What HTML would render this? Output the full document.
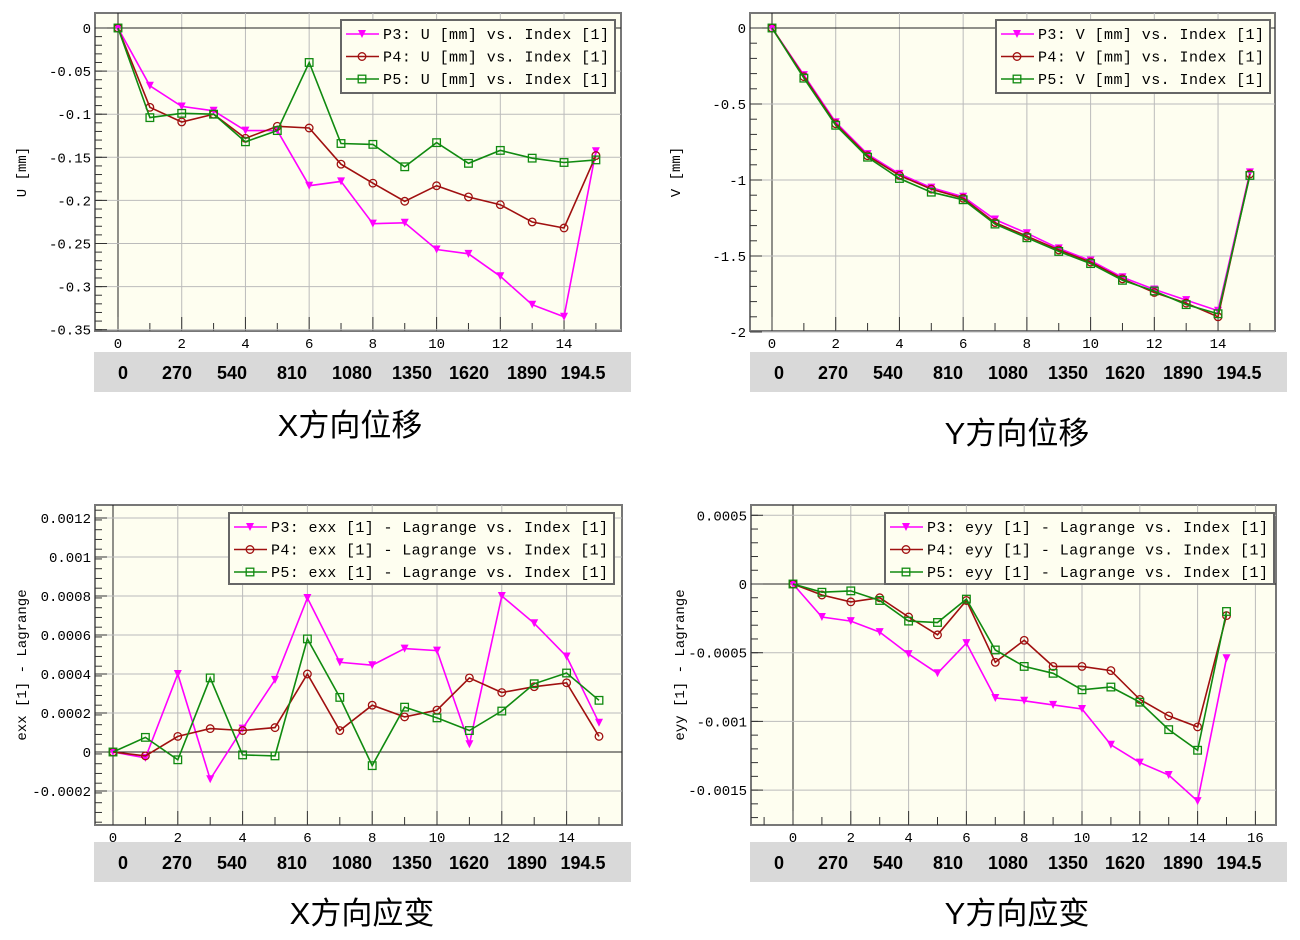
<!DOCTYPE html>
<html><head><meta charset="utf-8">
<style>
body{margin:0;background:#fff;width:1300px;height:940px;overflow:hidden}
svg{display:block}
</style></head><body>
<svg id="s" width="1300" height="940" xmlns="http://www.w3.org/2000/svg" font-family="Liberation Mono, monospace"></svg>
<script>
var S=document.getElementById('s'),h='';
var M="'Liberation Mono',monospace", CJK="'Liberation Sans','Noto Sans CJK SC',sans-serif";
var C=[{c:'#ff00ff',m:'tri'},{c:'#a01010',m:'circ'},{c:'#108a10',m:'sq'}];
function mk(m,x,y,c){
 if(m=='tri')return '<path d="M'+(x-4)+' '+(y-4)+'L'+(x+4)+' '+(y-4)+'L'+x+' '+(y+4)+'Z" fill="'+c+'"/>';
 if(m=='circ')return '<circle cx="'+x+'" cy="'+y+'" r="3.8" fill="none" stroke="'+c+'" stroke-width="1.3"/>';
 return '<rect x="'+(x-3.8)+'" y="'+(y-3.8)+'" width="7.6" height="7.6" fill="none" stroke="'+c+'" stroke-width="1.3"/>';
}
function chart(o){
 var fx=o.fx,fy=o.fy,fw=o.fw,fh=o.fh;
 h+='<rect x="'+fx+'" y="'+fy+'" width="'+fw+'" height="'+fh+'" fill="#fefef0" stroke="#777" stroke-width="2"/>';
 function X(i){return o.x0+i*o.dx}
 function Y(v){return o.y0+v*o.dy}
 for(var i=0;i<=o.xmax;i+=2){var x=X(i);if(x<fx||x>fx+fw)continue;
  h+='<line x1="'+x+'" y1="'+fy+'" x2="'+x+'" y2="'+(fy+fh)+'" stroke="'+(i==0?'#222':'#bbb')+'" stroke-width="1"/>';
  h+='<text x="'+x+'" y="'+(fy+fh+17)+'" font-size="14" text-anchor="middle" font-family="'+M+'">'+i+'</text>';}
 for(var i=o.xmin;i<=o.xmax;i++){var x=X(i);if(x<fx||x>fx+fw)continue;
  h+='<line x1="'+x+'" y1="'+(fy+fh-(i%2?8:14))+'" x2="'+x+'" y2="'+(fy+fh)+'" stroke="#333"/>';}
 o.yt.forEach(function(t){var y=Y(t[0]);
  h+='<line x1="'+fx+'" y1="'+y+'" x2="'+(fx+fw)+'" y2="'+y+'" stroke="'+(t[0]==0?'#222':'#bbb')+'"/>';
  h+='<line x1="'+fx+'" y1="'+y+'" x2="'+(fx+12)+'" y2="'+y+'" stroke="#333"/>';
  h+='<text x="'+(fx-4)+'" y="'+(y+5)+'" font-size="14" text-anchor="end" font-family="'+M+'">'+t[1]+'</text>';});
 for(var k=0;k<o.minor.length;k++){var y=Y(o.minor[k]);if(y>fy&&y<fy+fh)h+='<line x1="'+fx+'" y1="'+y+'" x2="'+(fx+7)+'" y2="'+y+'" stroke="#333"/>';}
 h+='<text transform="translate('+o.tx+','+(fy+fh/2)+') rotate(-90)" font-size="14" text-anchor="middle" font-family="'+M+'">'+o.title+'</text>';
 o.d.forEach(function(d,si){var c=C[si].c,p='';
  d.forEach(function(v,i){p+=(i?'L':'M')+X(i).toFixed(1)+' '+Y(v*o.sc).toFixed(1)});
  h+='<path d="'+p+'" fill="none" stroke="'+c+'" stroke-width="1.6"/>';
  d.forEach(function(v,i){h+=mk(C[si].m,X(i),Y(v*o.sc),c)});});
 var L=o.leg;
 h+='<rect x="'+L.x+'" y="'+L.y+'" width="'+L.w+'" height="'+L.h+'" fill="#fefef0" stroke="#666" stroke-width="2"/>';
 for(var si=0;si<3;si++){var y=L.y+14+si*22.5,c=C[si].c;
  h+='<line x1="'+(L.x+5)+'" y1="'+y+'" x2="'+(L.x+38)+'" y2="'+y+'" stroke="'+c+'" stroke-width="1.6"/>'+mk(C[si].m,L.x+21,y,c);
  h+='<text x="'+(L.x+42)+'" y="'+(y+5)+'" font-size="15" font-family="'+M+'" textLength="'+(L.w-48)+'">P'+(si+3)+': '+L.t+'</text>';}
 var bx=o.bx;
 h+='<rect x="'+bx+'" y="'+o.by+'" width="537" height="40" fill="#d9d9d9"/>';
 var lab=['0','270','540','810','1080','1350','1620','1890','194.5'],pos=[29,83,138,198,258,318,375,433,489];
 lab.forEach(function(l,i){h+='<text x="'+(bx+pos[i])+'" y="'+(o.by+27)+'" font-size="18" font-weight="bold" text-anchor="middle" font-family="'+CJK+'">'+l+'</text>';});
 h+='<text x="'+o.cx+'" y="'+o.cy+'" font-size="31" text-anchor="middle" font-family="'+CJK+'">'+o.cap+'</text>';
}
function rng(a,b,s){var r=[];for(var v=a;v<=b+1e-9;v+=s)r.push(+v.toFixed(6));return r}
chart({fx:95,fy:13,fw:526,fh:318,x0:118,dx:31.86,xmin:0,xmax:16,y0:28,dy:-862,sc:1,
 yt:[[0,'0'],[-0.05,'-0.05'],[-0.1,'-0.1'],[-0.15,'-0.15'],[-0.2,'-0.2'],[-0.25,'-0.25'],[-0.3,'-0.3'],[-0.35,'-0.35']],
 minor:rng(-0.35,0,0.01),tx:26,title:'U [mm]',
 d:[[0,-0.067,-0.091,-0.096,-0.119,-0.119,-0.183,-0.178,-0.227,-0.226,-0.257,-0.262,-0.288,-0.321,-0.335,-0.143],
    [0,-0.092,-0.109,-0.100,-0.128,-0.114,-0.116,-0.158,-0.180,-0.201,-0.183,-0.196,-0.205,-0.225,-0.232,-0.148],
    [0,-0.104,-0.099,-0.100,-0.132,-0.119,-0.040,-0.134,-0.135,-0.161,-0.133,-0.157,-0.142,-0.151,-0.156,-0.153]],
 leg:{x:341,y:20,w:274,h:73,t:'U [mm] vs. Index [1]'},bx:94,by:352,cx:350,cy:436,cap:'X方向位移'});
chart({fx:750,fy:13,fw:525,fh:318,x0:772,dx:31.86,xmin:0,xmax:16,y0:28,dy:-152,sc:1,
 yt:[[0,'0'],[-0.5,'-0.5'],[-1,'-1'],[-1.5,'-1.5'],[-2,'-2']],
 minor:rng(-2,0,0.1),tx:680,title:'V [mm]',
 d:[[0,-0.31,-0.62,-0.83,-0.96,-1.05,-1.11,-1.26,-1.35,-1.45,-1.53,-1.64,-1.72,-1.79,-1.86,-0.95],
    [0,-0.32,-0.63,-0.84,-0.97,-1.06,-1.12,-1.28,-1.37,-1.46,-1.54,-1.65,-1.74,-1.81,-1.90,-0.96],
    [0,-0.33,-0.64,-0.85,-0.99,-1.08,-1.13,-1.29,-1.38,-1.47,-1.55,-1.66,-1.73,-1.82,-1.88,-0.97]],
 leg:{x:996,y:20,w:274,h:73,t:'V [mm] vs. Index [1]'},bx:750,by:352,cx:1017,cy:444,cap:'Y方向位移'});
chart({fx:95,fy:505,fw:527,fh:320,x0:113,dx:32.4,xmin:0,xmax:16,y0:752,dy:-195000,sc:1e-4,
 yt:[[0,'0'],[0.0002,'0.0002'],[0.0004,'0.0004'],[0.0006,'0.0006'],[0.0008,'0.0008'],[0.001,'0.001'],[0.0012,'0.0012'],[-0.0002,'-0.0002']],
 minor:rng(-0.00036,0.0013,0.00005),tx:26,title:'exx [1] - Lagrange',
 d:[[0,-0.3,4.0,-1.4,1.2,3.7,7.9,4.6,4.45,5.3,5.2,0.4,8.0,6.6,4.9,1.5],
    [0,-0.2,0.8,1.2,1.1,1.25,4.0,1.1,2.4,1.8,2.15,3.8,3.05,3.35,3.55,0.8],
    [0,0.75,-0.4,3.8,-0.15,-0.2,5.8,2.8,-0.7,2.3,1.75,1.1,2.1,3.5,4.05,2.65]],
 leg:{x:229,y:513,w:385,h:71,t:'exx [1] - Lagrange vs. Index [1]'},bx:94,by:842,cx:362,cy:924,cap:'X方向应变'});
chart({fx:751,fy:505,fw:525,fh:320,x0:793,dx:28.9,xmin:-1,xmax:16,y0:584,dy:-137400,sc:1e-4,
 yt:[[0,'0'],[0.0005,'0.0005'],[-0.0005,'-0.0005'],[-0.001,'-0.001'],[-0.0015,'-0.0015']],
 minor:rng(-0.0017,0.0006,0.0001),tx:684,title:'eyy [1] - Lagrange',
 d:[[0,-2.4,-2.7,-3.5,-5.1,-6.5,-4.3,-8.3,-8.5,-8.8,-9.1,-11.7,-13.0,-13.9,-15.8,-5.4],
    [0,-0.8,-1.3,-1.0,-2.4,-3.7,-1.2,-5.7,-4.1,-6.0,-6.0,-6.3,-8.4,-9.6,-10.4,-2.3],
    [0,-0.6,-0.5,-1.2,-2.7,-2.8,-1.1,-4.8,-6.0,-6.5,-7.7,-7.5,-8.6,-10.6,-12.1,-2.0]],
 leg:{x:885,y:513,w:389,h:71,t:'eyy [1] - Lagrange vs. Index [1]'},bx:750,by:842,cx:1017,cy:924,cap:'Y方向应变'});
S.innerHTML=h;
</script>
</body></html>
